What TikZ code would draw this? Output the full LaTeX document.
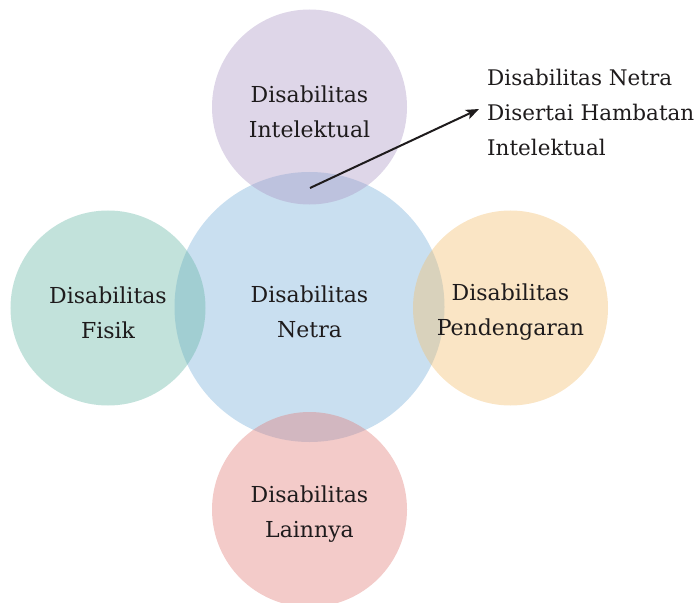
\documentclass[tikz,border=0pt]{standalone}
\usepackage{fontspec}
\setmainfont{DejaVu Serif}
\usepackage{tikz}
\usetikzlibrary{arrows.meta}
\definecolor{netrablue}{RGB}{120,175,217}
\definecolor{intelpurple}{RGB}{172,152,197}
\definecolor{fisikgreen}{RGB}{102,182,165}
\definecolor{dengarorange}{RGB}{242,190,110}
\definecolor{lainpink}{RGB}{225,125,120}
\definecolor{inkgray}{RGB}{30,27,28}
\tikzset{
  >={Stealth[length=13bp,width=10bp,inset=3bp]},
  x=1bp, y=-1bp,
}
\tikzstyle{every node}=[font=\fontsize{22bp}{35bp}\selectfont, text=inkgray]
\tikzstyle{disk}=[circle, minimum size=195bp, inner sep=0pt, fill opacity=.4]
\tikzstyle{disklabel}=[align=center, yshift=-4.5bp]
\tikzstyle{pointer}=[line width=2bp, draw=inkgray, ->]

\begin{document}
\begin{tikzpicture}
    \useasboundingbox (0,0) rectangle (698,603);
    \node[disk, fill=netrablue, minimum size=270bp] (netra) at (309.5,307) {};
    \node[disk, fill=intelpurple] (intel) at (309.5,107) {};
    \node[disk, fill=fisikgreen] (fisik) at (108,308) {};
    \node[disk, fill=dengarorange] (dengar) at (510.5,308) {};
    \node[disk, fill=lainpink] (lain) at (309.5,509.5) {};
    \node[disklabel] (netra-text) at (netra) {Disabilitas\\Netra};
    \node[disklabel] (intel-text) at (intel) {Disabilitas\\Intelektual};
    \node[disklabel] (fisik-text) at (fisik) {Disabilitas\\Fisik};
    \node[disklabel] (dengar-text) at (dengar) {Disabilitas\\Pendengaran};
    \node[disklabel] (lain-text) at (lain) {Disabilitas\\Lainnya};
    \node[anchor=west, align=left, inner sep=2bp, font=\fontsize{21.5bp}{35bp}\selectfont] (ganda) at (485,112)
      {Disabilitas Netra\\Disertai Hambatan\\Intelektual};
    \coordinate (irisan) at (310,188);
    \draw[pointer] (irisan) -- ([yshift=3bp,xshift=-6bp]ganda.west);
\end{tikzpicture}
\end{document}
